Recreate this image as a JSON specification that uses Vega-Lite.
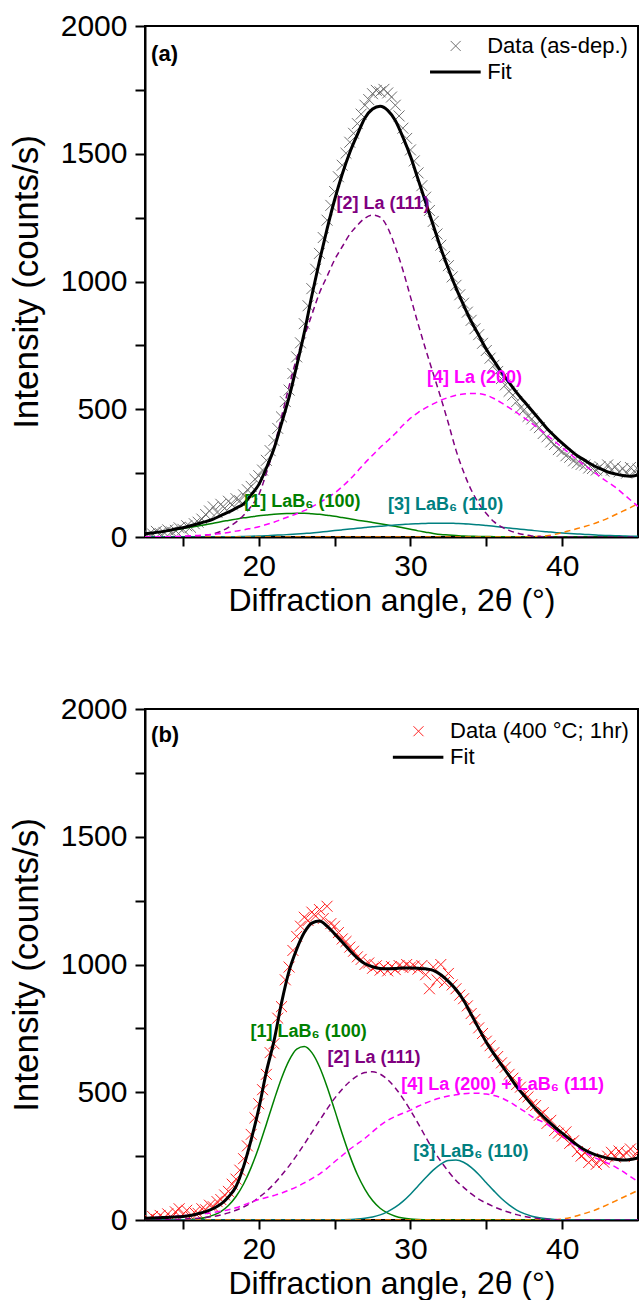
{
  "$schema": "https://vega.github.io/schema/vega-lite/v6.json",
  "padding": {"left": 8, "top": 10, "right": 0, "bottom": 0},
  "bounds": "flush",
  "spacing": 172,
  "config": {
    "font": "Liberation Sans",
    "view": {"stroke": "black", "strokeWidth": 2},
    "axis": {"grid": false, "domainColor": "black", "domainWidth": 2, "tickColor": "black", "tickWidth": 2, "labelColor": "black", "titleColor": "black", "labelFont": "Liberation Sans", "titleFont": "Liberation Sans", "labelFontSize": 30, "titleFontWeight": "normal", "labelFlush": false, "labelOverlap": false}
  },
  "datasets": {
    "a_curves": [
      {"x":12.5,"f":13,"g":14,"p":0,"t":0,"m":0,"o":0},
      {"x":13,"f":16,"g":16,"p":0,"t":0,"m":0,"o":0},
      {"x":13.5,"f":20,"g":20,"p":0,"t":0,"m":1,"o":0},
      {"x":14,"f":25,"g":24,"p":1,"t":0,"m":1,"o":0},
      {"x":14.5,"f":31,"g":28,"p":1,"t":0,"m":2,"o":0},
      {"x":15,"f":36,"g":33,"p":2,"t":0,"m":3,"o":0},
      {"x":15.5,"f":44,"g":38,"p":3,"t":0,"m":5,"o":0},
      {"x":16,"f":52,"g":43,"p":4,"t":0,"m":6,"o":0},
      {"x":16.5,"f":60,"g":48,"p":7,"t":0,"m":8,"o":0},
      {"x":17,"f":70,"g":54,"p":12,"t":0,"m":10,"o":0},
      {"x":17.5,"f":84,"g":60,"p":22,"t":0,"m":14,"o":0},
      {"x":18,"f":97,"g":65,"p":38,"t":1,"m":18,"o":0},
      {"x":18.5,"f":113,"g":70,"p":58,"t":1,"m":23,"o":0},
      {"x":19,"f":130,"g":75,"p":85,"t":2,"m":28,"o":0},
      {"x":19.5,"f":165,"g":79,"p":120,"t":3,"m":34,"o":0},
      {"x":20,"f":205,"g":83,"p":165,"t":4,"m":40,"o":0},
      {"x":20.5,"f":270,"g":86,"p":250,"t":5,"m":49,"o":0},
      {"x":21,"f":345,"g":89,"p":350,"t":7,"m":58,"o":0},
      {"x":21.5,"f":445,"g":91,"p":470,"t":8,"m":69,"o":0},
      {"x":22,"f":547,"g":92,"p":590,"t":10,"m":80,"o":0},
      {"x":22.5,"f":670,"g":93,"p":700,"t":12,"m":91,"o":0},
      {"x":23,"f":800,"g":93,"p":785,"t":14,"m":103,"o":0},
      {"x":23.5,"f":945,"g":91,"p":870,"t":16,"m":118,"o":0},
      {"x":24,"f":1080,"g":89,"p":955,"t":19,"m":135,"o":0},
      {"x":24.5,"f":1205,"g":85,"p":1020,"t":22,"m":152,"o":0},
      {"x":25,"f":1320,"g":81,"p":1085,"t":25,"m":172,"o":0},
      {"x":25.5,"f":1420,"g":76,"p":1136,"t":28,"m":197,"o":0},
      {"x":26,"f":1505,"g":71,"p":1185,"t":31,"m":225,"o":0},
      {"x":26.5,"f":1575,"g":66,"p":1220,"t":34,"m":257,"o":0},
      {"x":27,"f":1640,"g":62,"p":1248,"t":37,"m":290,"o":0},
      {"x":27.5,"f":1675,"g":57,"p":1260,"t":40,"m":320,"o":0},
      {"x":28,"f":1686,"g":52,"p":1252,"t":42,"m":350,"o":0},
      {"x":28.5,"f":1670,"g":47,"p":1210,"t":45,"m":377,"o":0},
      {"x":29,"f":1630,"g":42,"p":1135,"t":47,"m":405,"o":0},
      {"x":29.5,"f":1565,"g":36,"p":1045,"t":49,"m":437,"o":0},
      {"x":30,"f":1490,"g":30,"p":940,"t":51,"m":465,"o":0},
      {"x":30.5,"f":1400,"g":24,"p":835,"t":52,"m":487,"o":0},
      {"x":31,"f":1310,"g":19,"p":735,"t":53,"m":505,"o":0},
      {"x":31.5,"f":1220,"g":14,"p":640,"t":54,"m":521,"o":0},
      {"x":32,"f":1130,"g":10,"p":545,"t":54,"m":535,"o":0},
      {"x":32.5,"f":1050,"g":8,"p":445,"t":54,"m":546,"o":0},
      {"x":33,"f":975,"g":6,"p":340,"t":53,"m":555,"o":0},
      {"x":33.5,"f":908,"g":4,"p":255,"t":52,"m":560,"o":0},
      {"x":34,"f":845,"g":3,"p":185,"t":50,"m":562,"o":0},
      {"x":34.5,"f":790,"g":2,"p":132,"t":48,"m":561,"o":0},
      {"x":35,"f":735,"g":2,"p":92,"t":45,"m":555,"o":0},
      {"x":35.5,"f":690,"g":1,"p":60,"t":42,"m":542,"o":0},
      {"x":36,"f":645,"g":1,"p":40,"t":38,"m":525,"o":0},
      {"x":36.5,"f":605,"g":0,"p":26,"t":35,"m":506,"o":0},
      {"x":37,"f":565,"g":0,"p":16,"t":32,"m":487,"o":0},
      {"x":37.5,"f":530,"g":0,"p":9,"t":29,"m":466,"o":0},
      {"x":38,"f":495,"g":0,"p":4,"t":26,"m":445,"o":1},
      {"x":38.5,"f":460,"g":0,"p":2,"t":23,"m":422,"o":3},
      {"x":39,"f":425,"g":0,"p":1,"t":21,"m":398,"o":5},
      {"x":39.5,"f":395,"g":0,"p":0,"t":18,"m":375,"o":10},
      {"x":40,"f":367,"g":0,"p":0,"t":16,"m":350,"o":17},
      {"x":40.5,"f":342,"g":0,"p":0,"t":14,"m":326,"o":25},
      {"x":41,"f":318,"g":0,"p":0,"t":12,"m":302,"o":33},
      {"x":41.5,"f":300,"g":0,"p":0,"t":10,"m":280,"o":41},
      {"x":42,"f":282,"g":0,"p":0,"t":9,"m":258,"o":50},
      {"x":42.5,"f":268,"g":0,"p":0,"t":7,"m":236,"o":61},
      {"x":43,"f":255,"g":0,"p":0,"t":6,"m":215,"o":73},
      {"x":43.5,"f":247,"g":0,"p":0,"t":5,"m":195,"o":87},
      {"x":44,"f":241,"g":0,"p":0,"t":4,"m":170,"o":101},
      {"x":44.5,"f":238,"g":0,"p":0,"t":3,"m":145,"o":115},
      {"x":45,"f":243,"g":0,"p":0,"t":3,"m":120,"o":130}
    ],
    "a_pts": [
      {"x":12.75,"y":10},{"x":13,"y":12},{"x":13.25,"y":22},{"x":13.5,"y":14},{"x":13.75,"y":18},
      {"x":14,"y":28},{"x":14.25,"y":20},{"x":14.5,"y":26},{"x":14.75,"y":36},{"x":15,"y":30},
      {"x":15.25,"y":44},{"x":15.5,"y":38},{"x":15.75,"y":52},{"x":16,"y":58},{"x":16.25,"y":70},
      {"x":16.5,"y":88},{"x":16.75,"y":102},{"x":17,"y":118},{"x":17.25,"y":96},{"x":17.5,"y":128},
      {"x":17.75,"y":112},{"x":18,"y":140},{"x":18.25,"y":126},{"x":18.5,"y":150},{"x":18.75,"y":142},
      {"x":19,"y":165},{"x":19.25,"y":185},{"x":19.5,"y":198},{"x":19.75,"y":226},{"x":20,"y":240},
      {"x":20.25,"y":262},{"x":20.5,"y":300},{"x":20.75,"y":338},{"x":21,"y":378},{"x":21.25,"y":425},
      {"x":21.5,"y":470},{"x":21.75,"y":530},{"x":22,"y":575},{"x":22.25,"y":640},{"x":22.5,"y":705},
      {"x":22.75,"y":760},{"x":23,"y":835},{"x":23.25,"y":905},{"x":23.5,"y":972},{"x":23.75,"y":1048},
      {"x":24,"y":1110},{"x":24.25,"y":1172},{"x":24.5,"y":1240},{"x":24.75,"y":1298},{"x":25,"y":1352},
      {"x":25.25,"y":1410},{"x":25.5,"y":1455},{"x":25.75,"y":1502},{"x":26,"y":1545},{"x":26.25,"y":1580},
      {"x":26.5,"y":1618},{"x":26.75,"y":1655},{"x":27,"y":1690},{"x":27.25,"y":1712},{"x":27.5,"y":1735},
      {"x":27.75,"y":1748},{"x":28,"y":1742},{"x":28.25,"y":1752},{"x":28.5,"y":1738},{"x":28.75,"y":1722},
      {"x":29,"y":1690},{"x":29.25,"y":1648},{"x":29.5,"y":1600},{"x":29.75,"y":1560},{"x":30,"y":1515},
      {"x":30.25,"y":1472},{"x":30.5,"y":1425},{"x":30.75,"y":1375},{"x":31,"y":1330},{"x":31.25,"y":1278},
      {"x":31.5,"y":1235},{"x":31.75,"y":1186},{"x":32,"y":1142},{"x":32.25,"y":1098},{"x":32.5,"y":1062},
      {"x":32.75,"y":1018},{"x":33,"y":985},{"x":33.25,"y":948},{"x":33.5,"y":915},{"x":33.75,"y":880},
      {"x":34,"y":848},{"x":34.25,"y":815},{"x":34.5,"y":792},{"x":34.75,"y":758},{"x":35,"y":730},
      {"x":35.25,"y":700},{"x":35.5,"y":672},{"x":35.75,"y":648},{"x":36,"y":620},{"x":36.25,"y":595},
      {"x":36.5,"y":570},{"x":36.75,"y":555},{"x":37,"y":530},{"x":37.25,"y":505},{"x":37.5,"y":498},
      {"x":37.75,"y":472},{"x":38,"y":462},{"x":38.25,"y":438},{"x":38.5,"y":428},{"x":38.75,"y":405},
      {"x":39,"y":392},{"x":39.25,"y":372},{"x":39.5,"y":362},{"x":39.75,"y":342},{"x":40,"y":335},
      {"x":40.25,"y":318},{"x":40.5,"y":312},{"x":40.75,"y":298},{"x":41,"y":290},{"x":41.25,"y":284},
      {"x":41.5,"y":282},{"x":41.75,"y":270},{"x":42,"y":268},{"x":42.25,"y":262},{"x":42.5,"y":275},
      {"x":42.75,"y":258},{"x":43,"y":282},{"x":43.25,"y":262},{"x":43.5,"y":275},{"x":43.75,"y":255},
      {"x":44,"y":268},{"x":44.25,"y":250},{"x":44.5,"y":272},{"x":44.75,"y":258},{"x":45,"y":265}
    ],
    "a_lab": [
      {"x":28.19,"y":1303,"t":"[2] La (111)","id":"c2"},
      {"x":34.22,"y":623,"t":"[4] La (200)","id":"c4"},
      {"x":22.87,"y":138,"t":"[1] LaB₆ (100)","id":"c1"},
      {"x":32.32,"y":125,"t":"[3] LaB₆ (110)","id":"c3"}
    ],
    "a_legtext": [
      {"x":35.06,"y":1922,"t":"Data (as-dep.)"},
      {"x":35.06,"y":1820,"t":"Fit"}
    ],
    "a_legpt": [{"x":32.98,"y":1922}],
    "a_legline": [{"x":31.29,"x2":34.63,"y":1820}],
    "b_curves": [
      {"x":12.5,"f":7,"g":0,"p":0,"t":0,"m":8,"o":0},
      {"x":13,"f":8,"g":0,"p":0,"t":0,"m":10,"o":0},
      {"x":13.5,"f":9,"g":0,"p":1,"t":0,"m":11,"o":0},
      {"x":14,"f":10,"g":0,"p":1,"t":0,"m":13,"o":0},
      {"x":14.5,"f":12,"g":0,"p":2,"t":0,"m":15,"o":0},
      {"x":15,"f":14,"g":1,"p":3,"t":0,"m":17,"o":0},
      {"x":15.5,"f":18,"g":2,"p":5,"t":0,"m":19,"o":0},
      {"x":16,"f":25,"g":5,"p":7,"t":0,"m":22,"o":0},
      {"x":16.5,"f":33,"g":10,"p":10,"t":0,"m":25,"o":0},
      {"x":17,"f":45,"g":19,"p":14,"t":0,"m":29,"o":0},
      {"x":17.5,"f":62,"g":33,"p":20,"t":0,"m":34,"o":0},
      {"x":18,"f":90,"g":57,"p":28,"t":0,"m":40,"o":0},
      {"x":18.5,"f":131,"g":92,"p":38,"t":0,"m":48,"o":0},
      {"x":19,"f":210,"g":141,"p":51,"t":0,"m":58,"o":0},
      {"x":19.5,"f":315,"g":206,"p":67,"t":0,"m":70,"o":0},
      {"x":20,"f":435,"g":285,"p":88,"t":0,"m":80,"o":0},
      {"x":20.5,"f":580,"g":375,"p":112,"t":0,"m":88,"o":0},
      {"x":21,"f":700,"g":468,"p":141,"t":0,"m":96,"o":0},
      {"x":21.5,"f":850,"g":555,"p":175,"t":0,"m":105,"o":0},
      {"x":22,"f":975,"g":625,"p":212,"t":0,"m":117,"o":0},
      {"x":22.5,"f":1060,"g":669,"p":253,"t":0,"m":130,"o":0},
      {"x":23,"f":1125,"g":679,"p":297,"t":0,"m":145,"o":0},
      {"x":23.5,"f":1162,"g":655,"p":343,"t":0,"m":162,"o":0},
      {"x":24,"f":1170,"g":600,"p":389,"t":0,"m":180,"o":0},
      {"x":24.5,"f":1150,"g":522,"p":434,"t":0,"m":202,"o":0},
      {"x":25,"f":1120,"g":431,"p":476,"t":0,"m":228,"o":0},
      {"x":25.5,"f":1088,"g":338,"p":512,"t":1,"m":252,"o":0},
      {"x":26,"f":1055,"g":252,"p":542,"t":2,"m":277,"o":0},
      {"x":26.5,"f":1025,"g":178,"p":564,"t":3.5,"m":298,"o":0},
      {"x":27,"f":1003,"g":120,"p":577,"t":7,"m":320,"o":0},
      {"x":27.5,"f":991,"g":76,"p":580,"t":12,"m":345,"o":0},
      {"x":28,"f":984,"g":46,"p":571,"t":20,"m":370,"o":0},
      {"x":28.5,"f":983,"g":27,"p":549,"t":33,"m":390,"o":0},
      {"x":29,"f":984,"g":15,"p":517,"t":50,"m":405,"o":0},
      {"x":29.5,"f":986,"g":8,"p":476,"t":73,"m":418,"o":0},
      {"x":30,"f":986,"g":4,"p":429,"t":101,"m":430,"o":0},
      {"x":30.5,"f":985,"g":2,"p":378,"t":133,"m":445,"o":0},
      {"x":31,"f":983,"g":1,"p":325,"t":165,"m":458,"o":0},
      {"x":31.5,"f":977,"g":0,"p":274,"t":195,"m":469,"o":0},
      {"x":32,"f":960,"g":0,"p":230,"t":219,"m":478,"o":0},
      {"x":32.5,"f":934,"g":0,"p":190,"t":233,"m":485,"o":0},
      {"x":33,"f":902,"g":0,"p":155,"t":235,"m":490,"o":0},
      {"x":33.5,"f":860,"g":0,"p":128,"t":226,"m":494,"o":0},
      {"x":34,"f":805,"g":0,"p":103,"t":206,"m":496,"o":0},
      {"x":34.5,"f":750,"g":0,"p":82,"t":178,"m":496,"o":0},
      {"x":35,"f":696,"g":0,"p":66,"t":146,"m":493,"o":0},
      {"x":35.5,"f":650,"g":0,"p":52,"t":114,"m":487,"o":0},
      {"x":36,"f":607,"g":0,"p":40,"t":84,"m":478,"o":0},
      {"x":36.5,"f":565,"g":0,"p":30,"t":59,"m":463,"o":0},
      {"x":37,"f":522,"g":0,"p":21,"t":39,"m":445,"o":0},
      {"x":37.5,"f":486,"g":0,"p":14,"t":25,"m":426,"o":0},
      {"x":38,"f":451,"g":0,"p":9,"t":15,"m":405,"o":0},
      {"x":38.5,"f":420,"g":0,"p":5,"t":8.5,"m":390,"o":0},
      {"x":39,"f":391,"g":0,"p":3,"t":4.6,"m":375,"o":0},
      {"x":39.5,"f":364,"g":0,"p":1,"t":2.3,"m":352,"o":1},
      {"x":40,"f":340,"g":0,"p":0,"t":1.1,"m":330,"o":4},
      {"x":40.5,"f":316,"g":0,"p":0,"t":0.5,"m":308,"o":9},
      {"x":41,"f":293,"g":0,"p":0,"t":0,"m":285,"o":17},
      {"x":41.5,"f":274,"g":0,"p":0,"t":0,"m":265,"o":26},
      {"x":42,"f":260,"g":0,"p":0,"t":0,"m":248,"o":35},
      {"x":42.5,"f":250,"g":0,"p":0,"t":0,"m":235,"o":47},
      {"x":43,"f":242,"g":0,"p":0,"t":0,"m":222,"o":60},
      {"x":43.5,"f":238,"g":0,"p":0,"t":0,"m":208,"o":74},
      {"x":44,"f":235,"g":0,"p":0,"t":0,"m":190,"o":88},
      {"x":44.5,"f":237,"g":0,"p":0,"t":0,"m":170,"o":102},
      {"x":45,"f":243,"g":0,"p":0,"t":0,"m":150,"o":116}
    ],
    "b_pts": [
      {"x":12.75,"y":4},{"x":13,"y":14},{"x":13.25,"y":2},{"x":13.5,"y":18},{"x":13.75,"y":6},
      {"x":14,"y":24},{"x":14.25,"y":10},{"x":14.5,"y":32},{"x":14.75,"y":44},{"x":15,"y":22},
      {"x":15.25,"y":38},{"x":15.5,"y":14},{"x":15.75,"y":30},{"x":16,"y":26},{"x":16.25,"y":44},
      {"x":16.5,"y":40},{"x":16.75,"y":58},{"x":17,"y":52},{"x":17.25,"y":72},{"x":17.5,"y":80},
      {"x":17.75,"y":98},{"x":18,"y":112},{"x":18.25,"y":140},{"x":18.5,"y":160},{"x":18.75,"y":195},
      {"x":19,"y":240},{"x":19.25,"y":290},{"x":19.5,"y":335},{"x":19.75,"y":400},{"x":20,"y":455},
      {"x":20.25,"y":510},{"x":20.5,"y":570},{"x":20.75,"y":655},{"x":21,"y":690},{"x":21.25,"y":790},
      {"x":21.5,"y":835},{"x":21.75,"y":940},{"x":22,"y":990},{"x":22.25,"y":1055},{"x":22.5,"y":1110},
      {"x":22.75,"y":1150},{"x":23,"y":1185},{"x":23.25,"y":1172},{"x":23.5,"y":1205},{"x":23.75,"y":1190},
      {"x":24,"y":1215},{"x":24.25,"y":1180},{"x":24.5,"y":1228},{"x":24.75,"y":1160},{"x":25,"y":1150},
      {"x":25.25,"y":1125},{"x":25.5,"y":1100},{"x":25.75,"y":1090},{"x":26,"y":1068},{"x":26.25,"y":1052},
      {"x":26.5,"y":1030},{"x":26.75,"y":1020},{"x":27,"y":1000},{"x":27.25,"y":1006},{"x":27.5,"y":985},
      {"x":27.75,"y":995},{"x":28,"y":978},{"x":28.25,"y":990},{"x":28.5,"y":975},{"x":28.75,"y":992},
      {"x":29,"y":980},{"x":29.25,"y":996},{"x":29.5,"y":988},{"x":29.75,"y":1000},{"x":30,"y":990},
      {"x":30.25,"y":994},{"x":30.5,"y":982},{"x":30.75,"y":996},{"x":31,"y":960},{"x":31.25,"y":905},
      {"x":31.5,"y":990},{"x":31.75,"y":940},{"x":32,"y":1000},{"x":32.25,"y":930},{"x":32.5,"y":965},
      {"x":32.75,"y":920},{"x":33,"y":905},{"x":33.25,"y":880},{"x":33.5,"y":866},{"x":33.75,"y":838},
      {"x":34,"y":808},{"x":34.25,"y":785},{"x":34.5,"y":752},{"x":34.75,"y":730},{"x":35,"y":700},
      {"x":35.25,"y":682},{"x":35.5,"y":655},{"x":35.75,"y":640},{"x":36,"y":615},{"x":36.25,"y":598},
      {"x":36.5,"y":570},{"x":36.75,"y":555},{"x":37,"y":530},{"x":37.25,"y":520},{"x":37.5,"y":490},
      {"x":37.75,"y":482},{"x":38,"y":452},{"x":38.25,"y":448},{"x":38.5,"y":410},{"x":38.75,"y":420},
      {"x":39,"y":378},{"x":39.25,"y":390},{"x":39.5,"y":350},{"x":39.75,"y":340},{"x":40,"y":328},
      {"x":40.25,"y":345},{"x":40.5,"y":300},{"x":40.75,"y":310},{"x":41,"y":268},{"x":41.25,"y":250},
      {"x":41.5,"y":262},{"x":41.75,"y":225},{"x":42,"y":240},{"x":42.25,"y":218},{"x":42.5,"y":238},
      {"x":42.75,"y":226},{"x":43,"y":250},{"x":43.25,"y":265},{"x":43.5,"y":246},{"x":43.75,"y":270},
      {"x":44,"y":252},{"x":44.25,"y":262},{"x":44.5,"y":278},{"x":44.75,"y":248},{"x":45,"y":270}
    ],
    "b_lab": [
      {"x":23.29,"y":734,"t":"[1] LaB₆ (100)","id":"c1"},
      {"x":27.6,"y":633,"t":"[2] La (111)","id":"c2"},
      {"x":36.07,"y":527,"t":"[4] La (200) + LaB₆ (111)","id":"c4"},
      {"x":33.98,"y":268,"t":"[3] LaB₆ (110)","id":"c3"}
    ],
    "b_legtext": [
      {"x":32.61,"y":1913,"t":"Data (400 °C; 1hr)"},
      {"x":32.61,"y":1811,"t":"Fit"}
    ],
    "b_legpt": [{"x":30.53,"y":1913}],
    "b_legline": [{"x":28.84,"x2":32.17,"y":1811}]
  },
  "vconcat": [
    {
      "width": 493,
      "height": 511,
      "encoding": {
        "x": {"field": "x", "type": "quantitative", "scale": {"domain": [12.5, 45]}, "axis": {"orient": "bottom", "values": [15, 20, 25, 30, 35, 40], "labelExpr": "datum.value % 10 === 0 ? format(datum.value, 'd') : ''", "tickSize": 9, "labelPadding": 5, "title": "Diffraction angle, 2θ (°)", "titleFontSize": 32, "titlePadding": 4, "encode": {"ticks": {"y2": {"value": {"expr": "datum.value % 10 === 0 ? 9 : 5"}}}}}}
      },
      "layer": [
        {
          "data": {"name": "a_pts"},
          "mark": {"type": "point", "shape": "M-1,-1L1,1M-1,1L1,-1", "filled": false, "size": 120, "strokeWidth": 1, "color": "#707070", "opacity": 1, "clip": true},
          "encoding": {
            "y": {"field": "y", "type": "quantitative", "scale": {"domain": [0, 2000]}, "axis": {"orient": "left", "values": [0, 250, 500, 750, 1000, 1250, 1500, 1750, 2000], "labelExpr": "datum.value % 500 === 0 ? format(datum.value, 'd') : ''", "tickSize": 10, "labelPadding": 8, "title": "Intensity (counts/s)", "titleFontSize": 35, "titlePadding": 16, "encode": {"ticks": {"x2": {"value": {"expr": "datum.value % 500 === 0 ? -10 : -5"}}}}}}
          }
        },
        {
          "data": {"name": "a_curves"},
          "mark": {"type": "line", "color": "#008000", "strokeWidth": 1.5, "interpolate": "monotone", "clip": true},
          "encoding": {"y": {"field": "g", "type": "quantitative"}}
        },
        {
          "data": {"name": "a_curves"},
          "mark": {"type": "line", "color": "#008080", "strokeWidth": 1.5, "interpolate": "monotone", "clip": true},
          "encoding": {"y": {"field": "t", "type": "quantitative"}}
        },
        {
          "data": {"name": "a_curves"},
          "mark": {"type": "line", "color": "#FF8000", "strokeWidth": 1.5, "strokeDash": [6, 4], "interpolate": "monotone", "clip": true},
          "encoding": {"y": {"field": "o", "type": "quantitative"}}
        },
        {
          "data": {"name": "a_curves"},
          "mark": {"type": "line", "color": "#800080", "strokeWidth": 1.5, "strokeDash": [6, 4], "interpolate": "monotone", "clip": true},
          "encoding": {"y": {"field": "p", "type": "quantitative"}}
        },
        {
          "data": {"name": "a_curves"},
          "mark": {"type": "line", "color": "#FF00FF", "strokeWidth": 1.5, "strokeDash": [6, 4], "interpolate": "monotone", "clip": true},
          "encoding": {"y": {"field": "m", "type": "quantitative"}}
        },
        {
          "data": {"name": "a_curves"},
          "mark": {"type": "line", "color": "#000000", "strokeWidth": 3, "interpolate": "monotone", "clip": true},
          "encoding": {"y": {"field": "f", "type": "quantitative"}}
        },
        {
          "data": {"name": "a_lab"},
          "mark": {"type": "text", "font": "Liberation Sans", "fontSize": 18, "fontWeight": "bold", "align": "center", "baseline": "middle"},
          "encoding": {
            "y": {"field": "y", "type": "quantitative"},
            "text": {"field": "t"},
            "fill": {"field": "id", "type": "nominal", "scale": {"domain": ["c1", "c2", "c3", "c4"], "range": ["#008000", "#800080", "#008080", "#FF00FF"]}, "legend": null}
          }
        },
        {
          "data": {"values": [{"x": 12.9, "y": 1890, "t": "(a)"}]},
          "mark": {"type": "text", "font": "Liberation Sans", "fontSize": 22, "fontWeight": "bold", "align": "left", "baseline": "middle", "color": "black"},
          "encoding": {"y": {"field": "y", "type": "quantitative"}, "text": {"field": "t"}}
        },
        {
          "data": {"name": "a_legpt"},
          "mark": {"type": "point", "shape": "M-1,-1L1,1M-1,1L1,-1", "filled": false, "size": 100, "strokeWidth": 1, "color": "#707070", "opacity": 1},
          "encoding": {"y": {"field": "y", "type": "quantitative"}}
        },
        {
          "data": {"name": "a_legline"},
          "mark": {"type": "rule", "color": "#000000", "strokeWidth": 3},
          "encoding": {"x2": {"field": "x2"}, "y": {"field": "y", "type": "quantitative"}}
        },
        {
          "data": {"name": "a_legtext"},
          "mark": {"type": "text", "font": "Liberation Sans", "fontSize": 22, "align": "left", "baseline": "middle", "color": "black"},
          "encoding": {"y": {"field": "y", "type": "quantitative"}, "text": {"field": "t"}}
        }
      ]
    },
    {
      "width": 493,
      "height": 511,
      "encoding": {
        "x": {"field": "x", "type": "quantitative", "scale": {"domain": [12.5, 45]}, "axis": {"orient": "bottom", "values": [15, 20, 25, 30, 35, 40], "labelExpr": "datum.value % 10 === 0 ? format(datum.value, 'd') : ''", "tickSize": 9, "labelPadding": 5, "title": "Diffraction angle, 2θ (°)", "titleFontSize": 32, "titlePadding": 4, "encode": {"ticks": {"y2": {"value": {"expr": "datum.value % 10 === 0 ? 9 : 5"}}}}}}
      },
      "layer": [
        {
          "data": {"name": "b_pts"},
          "mark": {"type": "point", "shape": "M-1,-1L1,1M-1,1L1,-1", "filled": false, "size": 120, "strokeWidth": 1, "color": "#FF2020", "opacity": 1, "clip": true},
          "encoding": {
            "y": {"field": "y", "type": "quantitative", "scale": {"domain": [0, 2000]}, "axis": {"orient": "left", "values": [0, 250, 500, 750, 1000, 1250, 1500, 1750, 2000], "labelExpr": "datum.value % 500 === 0 ? format(datum.value, 'd') : ''", "tickSize": 10, "labelPadding": 8, "title": "Intensity (counts/s)", "titleFontSize": 35, "titlePadding": 16, "encode": {"ticks": {"x2": {"value": {"expr": "datum.value % 500 === 0 ? -10 : -5"}}}}}}
          }
        },
        {
          "data": {"name": "b_curves"},
          "mark": {"type": "line", "color": "#008000", "strokeWidth": 1.5, "interpolate": "monotone", "clip": true},
          "encoding": {"y": {"field": "g", "type": "quantitative"}}
        },
        {
          "data": {"name": "b_curves"},
          "mark": {"type": "line", "color": "#008080", "strokeWidth": 1.5, "interpolate": "monotone", "clip": true},
          "encoding": {"y": {"field": "t", "type": "quantitative"}}
        },
        {
          "data": {"name": "b_curves"},
          "mark": {"type": "line", "color": "#FF8000", "strokeWidth": 1.5, "strokeDash": [6, 4], "interpolate": "monotone", "clip": true},
          "encoding": {"y": {"field": "o", "type": "quantitative"}}
        },
        {
          "data": {"name": "b_curves"},
          "mark": {"type": "line", "color": "#800080", "strokeWidth": 1.5, "strokeDash": [6, 4], "interpolate": "monotone", "clip": true},
          "encoding": {"y": {"field": "p", "type": "quantitative"}}
        },
        {
          "data": {"name": "b_curves"},
          "mark": {"type": "line", "color": "#FF00FF", "strokeWidth": 1.5, "strokeDash": [6, 4], "interpolate": "monotone", "clip": true},
          "encoding": {"y": {"field": "m", "type": "quantitative"}}
        },
        {
          "data": {"name": "b_curves"},
          "mark": {"type": "line", "color": "#000000", "strokeWidth": 3, "interpolate": "monotone", "clip": true},
          "encoding": {"y": {"field": "f", "type": "quantitative"}}
        },
        {
          "data": {"name": "b_lab"},
          "mark": {"type": "text", "font": "Liberation Sans", "fontSize": 18, "fontWeight": "bold", "align": "center", "baseline": "middle"},
          "encoding": {
            "y": {"field": "y", "type": "quantitative"},
            "text": {"field": "t"},
            "fill": {"field": "id", "type": "nominal", "scale": {"domain": ["c1", "c2", "c3", "c4"], "range": ["#008000", "#800080", "#008080", "#FF00FF"]}, "legend": null}
          }
        },
        {
          "data": {"values": [{"x": 12.9, "y": 1899, "t": "(b)"}]},
          "mark": {"type": "text", "font": "Liberation Sans", "fontSize": 22, "fontWeight": "bold", "align": "left", "baseline": "middle", "color": "black"},
          "encoding": {"y": {"field": "y", "type": "quantitative"}, "text": {"field": "t"}}
        },
        {
          "data": {"name": "b_legpt"},
          "mark": {"type": "point", "shape": "M-1,-1L1,1M-1,1L1,-1", "filled": false, "size": 100, "strokeWidth": 1, "color": "#FF2020", "opacity": 1},
          "encoding": {"y": {"field": "y", "type": "quantitative"}}
        },
        {
          "data": {"name": "b_legline"},
          "mark": {"type": "rule", "color": "#000000", "strokeWidth": 3},
          "encoding": {"x2": {"field": "x2"}, "y": {"field": "y", "type": "quantitative"}}
        },
        {
          "data": {"name": "b_legtext"},
          "mark": {"type": "text", "font": "Liberation Sans", "fontSize": 22, "align": "left", "baseline": "middle", "color": "black"},
          "encoding": {"y": {"field": "y", "type": "quantitative"}, "text": {"field": "t"}}
        }
      ]
    }
  ]
}
